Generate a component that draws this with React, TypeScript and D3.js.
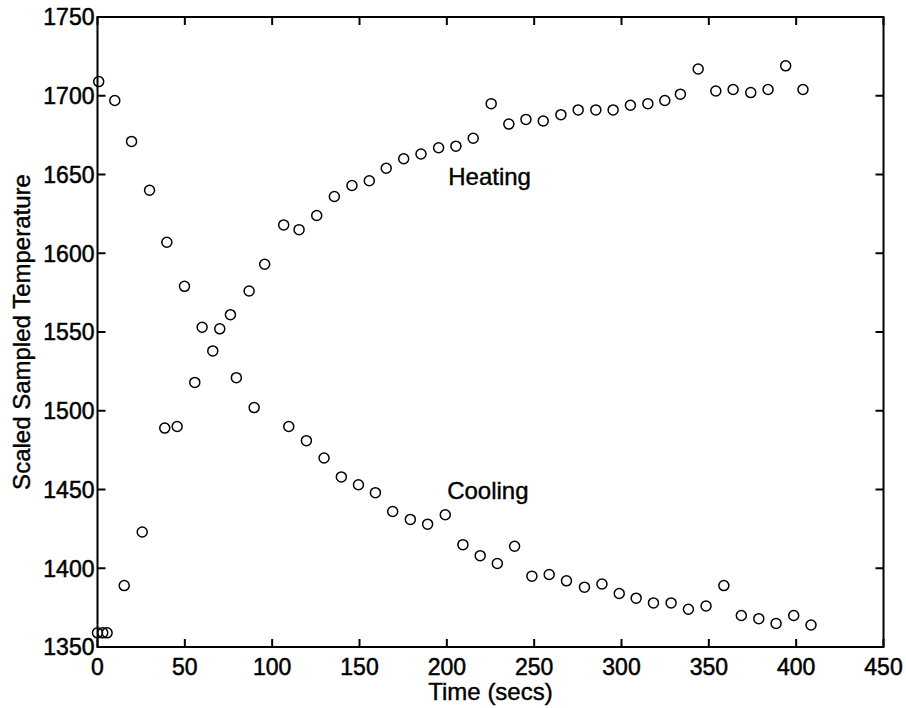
import React from "react";
import * as d3 from "d3";

const heatingTime = [0, 3, 5.5, 15.3, 25.6, 38.5, 45.6, 55.7, 66, 76.1, 86.8, 95.7, 106.6, 115.4, 125.5, 135.6, 145.7, 155.6, 165.3, 175.3, 185.2, 195.3, 205.2, 215.1, 225.4, 235.5, 245.3, 255.2, 265.3, 275.2, 285.3, 295.2, 305.1, 315.1, 324.8, 333.7, 343.9, 354, 363.9, 374, 383.9, 394, 403.9];
const heatingTemp = [1359, 1359, 1359, 1389, 1423, 1489, 1490, 1518, 1538, 1561, 1576, 1593, 1618, 1615, 1624, 1636, 1643, 1646, 1654, 1660, 1663, 1667, 1668, 1673, 1695, 1682, 1685, 1684, 1688, 1691, 1691, 1691, 1694, 1695, 1697, 1701, 1717, 1703, 1704, 1702, 1704, 1719, 1704];

const coolingTime = [0.7, 9.9, 19.5, 29.8, 39.7, 49.8, 59.9, 70, 79.5, 89.7, 109.5, 119.6, 129.7, 139.6, 149.4, 159.1, 169, 179.1, 189, 199.1, 209.2, 219.1, 228.9, 238.8, 248.7, 258.6, 268.5, 278.8, 288.8, 298.7, 308.4, 318.3, 328.4, 338.3, 348.4, 358.6, 368.6, 378.6, 388.5, 398.6, 408.5];
const coolingTemp = [1709, 1697, 1671, 1640, 1607, 1579, 1553, 1552, 1521, 1502, 1490, 1481, 1470, 1458, 1453, 1448, 1436, 1431, 1428, 1434, 1415, 1408, 1403, 1414, 1395, 1396, 1392, 1388, 1390, 1384, 1381, 1378, 1378, 1374, 1376, 1389, 1370, 1368, 1365, 1370, 1364];

const xTicks = [0, 50, 100, 150, 200, 250, 300, 350, 400, 450];
const yTicks = [1350, 1400, 1450, 1500, 1550, 1600, 1650, 1700, 1750];

const annotations = [
  { label: "Heating", t: 200.8, v: 1643.5 },
  { label: "Cooling", t: 200.2, v: 1443.8 },
];

const W = 906, H = 708;
const M = { left: 97.5, right: 22.5, top: 17, bottom: 61 };
const FONT = "'Liberation Sans', Arial, Helvetica, sans-serif";

export default function App() {
  const x = d3.scaleLinear().domain([0, 450]).range([M.left, W - M.right]);
  const y = d3.scaleLinear().domain([1350, 1750]).range([H - M.bottom, M.top]);
  const x0 = x(0), x1 = x(450), y0 = y(1350), y1 = y(1750);
  const tl = 8;
  const pts = [
    ...heatingTime.map((t, i) => [t, heatingTemp[i]]),
    ...coolingTime.map((t, i) => [t, coolingTemp[i]]),
  ];
  return (
    <div style={{ position: "absolute", left: 0, top: 0 }}>
      <svg width={W} height={H} style={{ display: "block", background: "#fff" }}>
        <g stroke="#000" strokeWidth={2} fill="none">
          <rect x={x0} y={y1} width={x1 - x0} height={y0 - y1} />
          {xTicks.map((t) => (
            <g key={"xt" + t}>
              <line x1={x(t)} x2={x(t)} y1={y0} y2={y0 - tl} />
              <line x1={x(t)} x2={x(t)} y1={y1} y2={y1 + tl} />
            </g>
          ))}
          {yTicks.map((t) => (
            <g key={"yt" + t}>
              <line x1={x0} x2={x0 + tl} y1={y(t)} y2={y(t)} />
              <line x1={x1} x2={x1 - tl} y1={y(t)} y2={y(t)} />
            </g>
          ))}
        </g>
        <g fontFamily={FONT} fontSize={23} fill="#000" stroke="#000" strokeWidth={0.5}>
          {xTicks.map((t) => (
            <text key={"xl" + t} x={x(t)} y={y0 + 28} textAnchor="middle">{t}</text>
          ))}
          {yTicks.map((t) => (
            <text key={"yl" + t} x={x0 - 3} y={y(t)} dy="0.36em" textAnchor="end">{t}</text>
          ))}
        </g>
        <g fontFamily={FONT} fontSize={24} fill="#000" stroke="#000" strokeWidth={0.4}>
          <text x={(x0 + x1) / 2} y={700} textAnchor="middle">Time (secs)</text>
          <text transform={`translate(30,${(y0 + y1) / 2}) rotate(-90)`} textAnchor="middle">Scaled Sampled Temperature</text>
          {annotations.map((a) => (
            <text key={a.label} x={x(a.t)} y={y(a.v)}>{a.label}</text>
          ))}
        </g>
        <g fill="none" stroke="#000" strokeWidth={1.5}>
          {pts.map(([t, v], i) => (
            <circle key={i} cx={x(t)} cy={y(v)} r={5} />
          ))}
        </g>
      </svg>
    </div>
  );
}
